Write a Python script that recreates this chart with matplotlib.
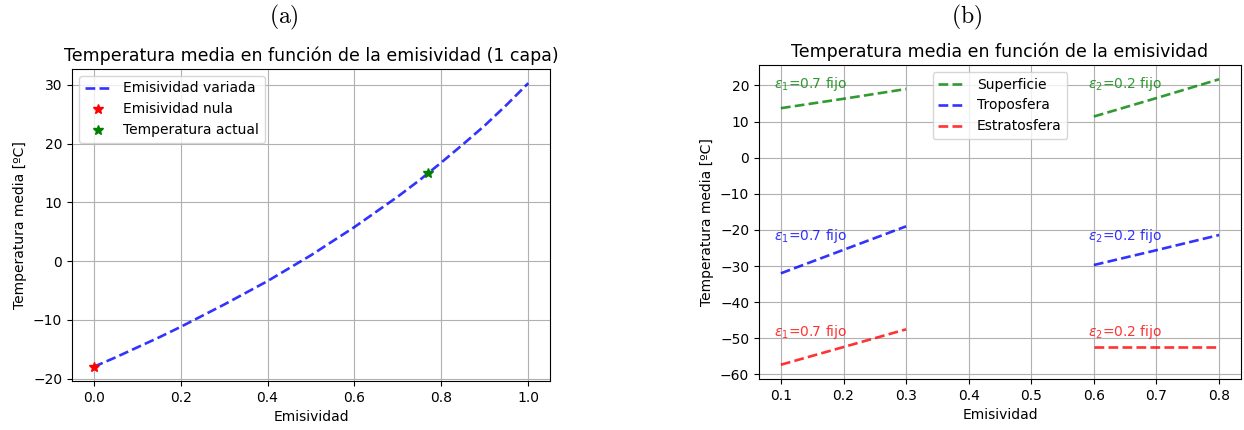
import matplotlib
matplotlib.use("Agg")
import matplotlib.pyplot as plt

# ---- data (a) ----
emis_a = [0.0, 0.05, 0.1, 0.15, 0.2, 0.25, 0.3, 0.35, 0.4, 0.45, 0.5,
          0.55, 0.6, 0.65, 0.7, 0.75, 0.8, 0.85, 0.9, 0.95, 1.0]
temp_a = [-18.0, -16.4, -14.7, -13.0, -11.2, -9.3, -7.4, -5.4, -3.4, -1.2, 1.0,
          3.4, 5.8, 8.4, 11.0, 13.8, 16.8, 19.9, 23.1, 26.6, 30.3]
nula_x, nula_y = [0.0], [-18.0]
actual_x, actual_y = [0.77], [15.0]

# ---- data (b) ----
emis_b1 = [0.1, 0.2, 0.3]
emis_b2 = [0.6, 0.7, 0.8]
sup_1 = [13.7, 16.3, 19.0]
sup_2 = [11.4, 16.5, 21.7]
tropo_1 = [-32.0, -25.5, -19.0]
tropo_2 = [-29.7, -25.6, -21.4]
estr_1 = [-57.3, -52.4, -47.5]
estr_2 = [-52.5, -52.5, -52.5]
labels_b = ["Superficie", "Troposfera", "Estratosfera"]
colors_b = ["green", "blue", "red"]
text_y = [20.3, -21.6, -48.3]

fig = plt.figure(figsize=(12.44, 4.30), dpi=100)
W, H = 1244, 430

def ax_at(l, t, r, b):
    return fig.add_axes([l / W, 1 - b / H, (r - l) / W, (b - t) / H])

ax1 = ax_at(72, 69, 550, 381)
ax2 = ax_at(759, 65, 1241, 379)

fs = 10
# (a)
ax1.plot(emis_a, temp_a, "b--", alpha=0.8, lw=1.9, label="Emisividad variada")
ax1.plot(nula_x, nula_y, "r*", markersize=7, label="Emisividad nula")
ax1.plot(actual_x, actual_y, "g*", markersize=7, label="Temperatura actual")
ax1.set_title("Temperatura media en función de la emisividad (1 capa)", fontsize=12.5)
ax1.set_xlabel("Emisividad", fontsize=fs)
ax1.set_ylabel("Temperatura media [ºC]", fontsize=fs)
ax1.grid(True)
ax1.legend(loc="upper left", fontsize=fs)
ax1.tick_params(labelsize=fs)

# (b)
series1 = [sup_1, tropo_1, estr_1]
series2 = [sup_2, tropo_2, estr_2]
for lab, c, y1, y2, ty in zip(labels_b, colors_b, series1, series2, text_y):
    ax2.plot(emis_b1, y1, "--", color=c, alpha=0.8, lw=1.9, label=lab)
    ax2.plot(emis_b2, y2, "--", color=c, alpha=0.8, lw=1.9)
    ax2.text(0.089, ty, r"$\varepsilon_1$=0.7 fijo", color=c, alpha=0.8,
             fontsize=fs, va="center", ha="left")
    ax2.text(0.590, ty, r"$\varepsilon_2$=0.2 fijo", color=c, alpha=0.8,
             fontsize=fs, va="center", ha="left")
ax2.set_title("Temperatura media en función de la emisividad", fontsize=12.5)
ax2.set_xlabel("Emisividad", fontsize=fs)
ax2.set_ylabel("Temperatura media [ºC]", fontsize=fs)
ax2.grid(True)
ax2.legend(loc="upper center", fontsize=fs)
ax2.tick_params(labelsize=fs)

fig.text(284 / W, 1 - 17 / H, r"$\mathrm{(a)}$", fontsize=17,
         math_fontfamily="cm", ha="center", va="center")
fig.text(967 / W, 1 - 17 / H, r"$\mathrm{(b)}$", fontsize=17,
         math_fontfamily="cm", ha="center", va="center")

fig.savefig("out.png", dpi=100)
